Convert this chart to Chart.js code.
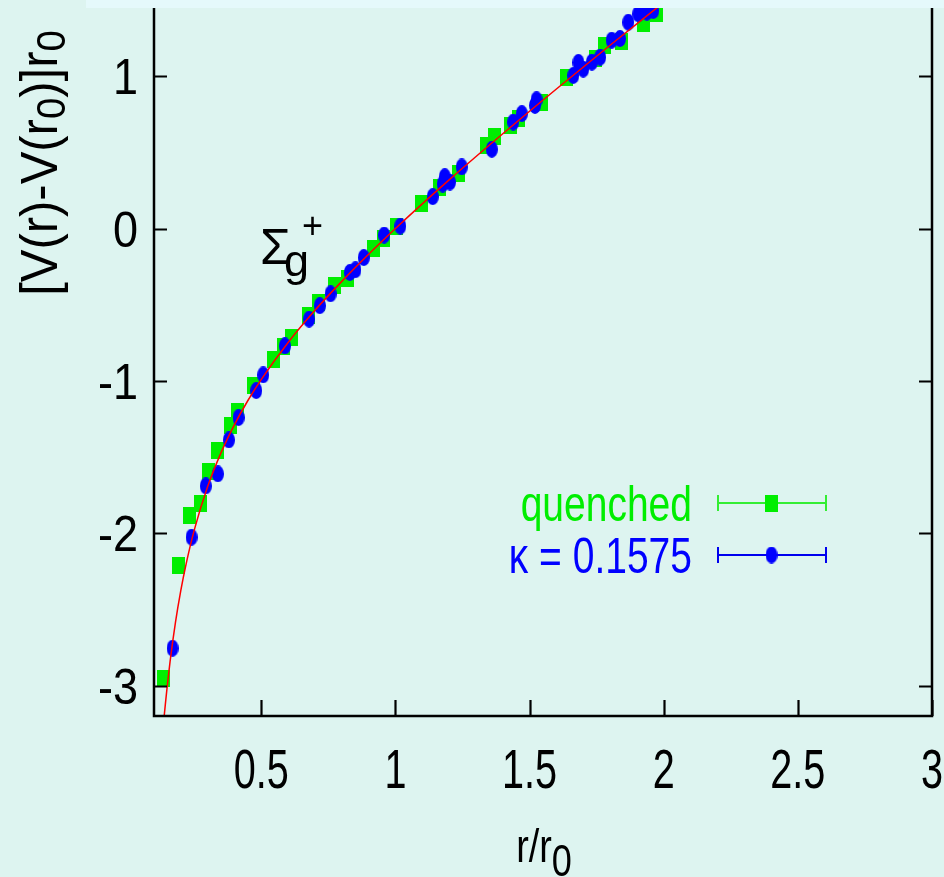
<!DOCTYPE html>
<html>
<head>
<meta charset="utf-8">
<script src="https://cdn.jsdelivr.net/npm/chart.js@4"></script>
<style>
  html, body { margin: 0; padding: 0; background: #ddf4f0; }
  canvas { display: block; }
</style>
</head>
<body>
<canvas id="potChart" width="944" height="877"></canvas>
<script>
// ==========================
// Data
// ==========================
const quenchedX = [0.134, 0.193, 0.234, 0.272, 0.305, 0.335, 0.387, 0.410, 0.472, 0.544, 0.581, 0.611,
                   0.675, 0.712, 0.774, 0.820, 0.917, 0.954, 1.004, 1.098, 1.166, 1.234, 1.340, 1.371,
                   1.427, 1.460, 1.545, 1.638, 1.744, 1.781, 1.844, 1.924, 1.974];
const quenchedY = [-2.951, -2.215, -1.886, -1.808, -1.596, -1.459, -1.291, -1.198, -1.029, -0.860, -0.775, -0.714,
                   -0.570, -0.486, -0.377, -0.326, -0.130, -0.065, 0.011, 0.165, 0.270, 0.361, 0.546, 0.601,
                   0.677, 0.720, 0.830, 0.994, 1.115, 1.202, 1.225, 1.343, 1.409];

const kappaX = [0.169, 0.240, 0.293, 0.338, 0.379, 0.415, 0.481, 0.507, 0.588, 0.678, 0.718, 0.758,
                0.830, 0.851, 0.882, 0.958, 1.018, 1.139, 1.176, 1.184, 1.203, 1.247, 1.359, 1.439,
                1.471, 1.520, 1.526, 1.663, 1.682, 1.700, 1.732, 1.763, 1.806, 1.837, 1.868, 1.905,
                1.937, 1.961];
const kappaY = [-2.755, -2.026, -1.690, -1.611, -1.388, -1.241, -1.064, -0.961, -0.771, -0.595, -0.507, -0.429,
                -0.289, -0.271, -0.191, -0.043, 0.016, 0.209, 0.292, 0.340, 0.305, 0.404, 0.520, 0.699,
                0.754, 0.808, 0.845, 1.005, 1.090, 1.046, 1.092, 1.125, 1.236, 1.247, 1.354, 1.409,
                1.420, 1.431];

// red fit curve, sampled along the drawn line
const fitX = [0.138, 0.15, 0.16, 0.18, 0.20, 0.22, 0.25, 0.30, 0.35, 0.40, 0.45, 0.50, 0.60, 0.70,
              0.80, 0.90, 1.00, 1.20, 1.40, 1.60, 1.80, 2.00, 2.05];
const fitY = [-3.199, -2.992, -2.841, -2.586, -2.376, -2.200, -1.980, -1.694, -1.471, -1.287, -1.129, -0.990,
              -0.748, -0.537, -0.347, -0.169, 0.000, 0.319, 0.622, 0.916, 1.203, 1.485, 1.555];

const xTicks = [0.5, 1, 1.5, 2, 2.5, 3];
const xTickLabels = ["0.5", "1", "1.5", "2", "2.5", "3"];
const yTicks = [1, 0, -1, -2, -3];
const yTickLabels = ["1", "0", "-1", "-2", "-3"];

const legendLabels = ["quenched", "\u03ba = 0.1575"];

// ==========================
// Colours & markers
// ==========================
const BG = "#ddf4f0";
const GREEN = "#00ee00";
const BLUE = "#0000ff";
const FONT = "'Liberation Sans', Arial, sans-serif";

function makeMarker(w, h, color, shape) {
  const c = document.createElement("canvas");
  c.width = w; c.height = h;
  const g = c.getContext("2d");
  g.fillStyle = color;
  if (shape === "rect") {
    g.fillRect(0, 0, w, h);
  } else {
    g.beginPath();
    g.ellipse(w / 2, h / 2, w / 2, h / 2, 0, 0, Math.PI * 2);
    g.fill();
  }
  return c;
}
const greenMark = makeMarker(13, 17, GREEN, "rect");
const blueMark = makeMarker(12, 17, BLUE, "ellipse");

const toPts = (xs, ys) => xs.map((x, i) => ({ x: x, y: ys[i] }));

// ==========================
// Text helpers
// ==========================
function text(ctx, str, x, y, size, color, align, sx, family) {
  ctx.save();
  ctx.font = size + "px " + (family || FONT);
  ctx.fillStyle = color;
  ctx.textBaseline = "alphabetic";
  ctx.translate(x, y);
  ctx.scale(sx || 1, 1);
  ctx.textAlign = align || "left";
  ctx.fillText(str, 0, 0);
  ctx.restore();
}

// segments: [string, fontSize, baselineShift]
function richText(ctx, segs, x, y, color, sx) {
  ctx.save();
  ctx.fillStyle = color;
  ctx.textBaseline = "alphabetic";
  ctx.textAlign = "left";
  ctx.translate(x, y);
  ctx.scale(sx || 1, 1);
  let total = 0;
  segs.forEach(s => { ctx.font = s[1] + "px " + FONT; total += ctx.measureText(s[0]).width; });
  let cx = -total / 2;
  segs.forEach(s => {
    ctx.font = s[1] + "px " + FONT;
    ctx.fillText(s[0], cx, s[2]);
    cx += ctx.measureText(s[0]).width;
  });
  ctx.restore();
}

// ==========================
// Decoration plugin (frame, ticks, labels, legend)
// ==========================
const decor = {
  id: "decor",
  beforeDraw(chart) {
    const ctx = chart.ctx;
    ctx.save();
    ctx.fillStyle = BG;
    ctx.fillRect(0, 0, chart.width, chart.height);
    ctx.restore();
  },
  afterDraw(chart) {
    const ctx = chart.ctx;
    const a = chart.chartArea;
    const xs = chart.scales.x, ys = chart.scales.y;

    // frame
    ctx.save();
    ctx.strokeStyle = "#000";
    ctx.lineWidth = 2.5;
    ctx.beginPath();
    ctx.moveTo(a.left, a.top);
    ctx.lineTo(a.left, a.bottom);
    ctx.lineTo(a.right, a.bottom);
    ctx.lineTo(a.right, a.top);
    ctx.stroke();

    // ticks
    ctx.lineWidth = 2.2;
    ctx.beginPath();
    xTicks.forEach(v => {
      const px = Math.round(xs.getPixelForValue(v)) + 0.5;
      ctx.moveTo(px, a.bottom);
      ctx.lineTo(px, a.bottom - 16);
    });
    yTicks.forEach(v => {
      const py = Math.round(ys.getPixelForValue(v)) + 0.5;
      ctx.moveTo(a.left, py);
      ctx.lineTo(a.left + 13, py);
      ctx.moveTo(a.right, py);
      ctx.lineTo(a.right - 13, py);
    });
    ctx.stroke();
    ctx.restore();

    // tick labels
    xTicks.forEach((v, i) => {
      text(ctx, xTickLabels[i], xs.getPixelForValue(v), 788, 55, "#000", "center", 0.72);
    });
    yTicks.forEach((v, i) => {
      text(ctx, yTickLabels[i], 138, ys.getPixelForValue(v) + 18, 50, "#000", "right", 0.9);
    });

    // axis titles
    richText(ctx, [["r/r", 46, 0], ["0", 44, 14]], 544, 862, "#000", 0.82);
    ctx.save();
    ctx.translate(57, 163);
    ctx.rotate(-Math.PI / 2);
    richText(ctx, [["[V(r)-V(r", 51, 0], ["0", 40, 8], [")]r", 51, 0], ["0", 40, 8]], 0, 0, "#000", 0.96);
    ctx.restore();

    // state label
    text(ctx, "\u03a3", 260, 264, 50, "#000", "left", 1);
    text(ctx, "g", 284, 276, 45, "#000", "left", 1);
    text(ctx, "+", 302, 238, 36, "#000", "left", 1);

    // legend
    const rows = [
      { label: legendLabels[0], color: GREEN, line: "#33ee33", mark: greenMark, y: 503, base: 521 },
      { label: legendLabels[1], color: BLUE, line: "#0000ee", mark: blueMark, y: 555, base: 573 }
    ];
    rows.forEach(r => {
      text(ctx, r.label, 692, r.base, 50, r.color, "right", 0.78);
      ctx.save();
      ctx.strokeStyle = r.line;
      ctx.lineWidth = 2;
      ctx.beginPath();
      ctx.moveTo(718, r.y); ctx.lineTo(826, r.y);
      ctx.moveTo(718, r.y - 8); ctx.lineTo(718, r.y + 8);
      ctx.moveTo(826, r.y - 8); ctx.lineTo(826, r.y + 8);
      ctx.stroke();
      ctx.drawImage(r.mark, 771.5 - r.mark.width / 2, r.y - r.mark.height / 2);
      ctx.restore();
    });

    // pale strip across the top
    ctx.save();
    ctx.fillStyle = "#e5f9fb";
    ctx.fillRect(86, 0, chart.width - 86, 8);
    ctx.restore();
  }
};

// ==========================
// Chart
// ==========================
const ctx = document.getElementById("potChart").getContext("2d");
new Chart(ctx, {
  type: "scatter",
  data: {
    datasets: [
      {
        label: "fit",
        data: toPts(fitX, fitY),
        showLine: true,
        borderColor: "#ff0000",
        borderWidth: 1.5,
        pointRadius: 0,
        cubicInterpolationMode: "monotone"
      },
      {
        label: legendLabels[1],
        data: toPts(kappaX, kappaY),
        pointStyle: blueMark,
        pointRadius: 8,
        clip: false
      },
      {
        label: legendLabels[0],
        data: toPts(quenchedX, quenchedY),
        pointStyle: greenMark,
        pointRadius: 8,
        clip: false
      }
    ]
  },
  options: {
    responsive: false,
    animation: false,
    layout: { autoPadding: false, padding: { left: 0, right: 12, top: 0, bottom: 0 } },
    plugins: { legend: { display: false }, tooltip: { enabled: false } },
    scales: {
      x: {
        type: "linear",
        min: 0.1,
        max: 3,
        grid: { display: false },
        border: { display: false },
        ticks: { display: false },
        afterFit: s => { s.height = 161; }
      },
      y: {
        type: "linear",
        min: -3.2,
        max: 1.5,
        grid: { display: false },
        border: { display: false },
        ticks: { display: false },
        afterFit: s => { s.width = 154; }
      }
    }
  },
  plugins: [decor]
});
</script>
</body>
</html>
